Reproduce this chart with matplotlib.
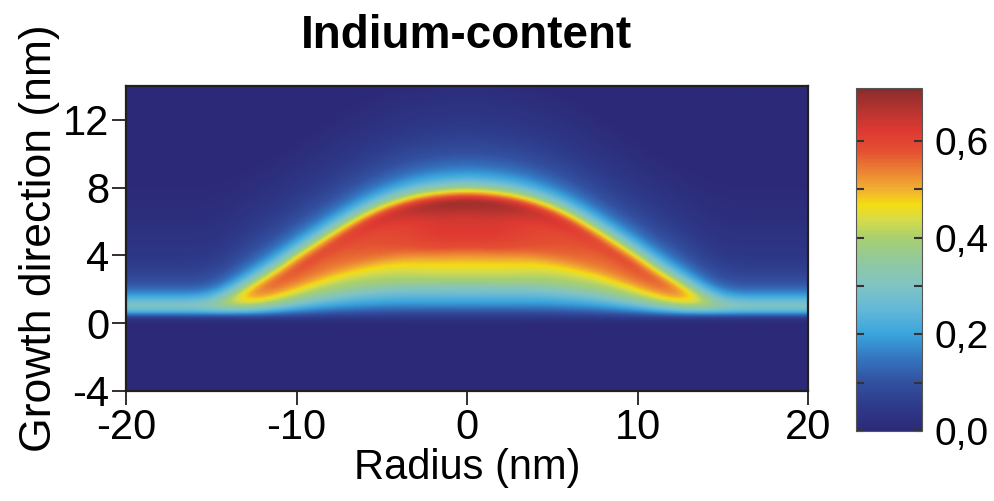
import matplotlib
matplotlib.use("Agg")
import matplotlib.pyplot as plt
import numpy as np
from matplotlib.colors import LinearSegmentedColormap
from matplotlib.ticker import FuncFormatter

plt.rcParams['font.family'] = ['Liberation Sans', 'DejaVu Sans']
plt.rcParams['axes.unicode_minus'] = False

# lateral shape of the dot: radius, top of the In-rich layer, its base, peak content
radius_nm = [-20, -16, -15, -14, -13, -12, -11, -10, -9, -8, -7, -6, -5, -4, -3, -2, -1, 0,
             1, 2, 3, 4, 5, 6, 7, 8, 9, 10, 11, 12, 13, 14, 15, 16, 20]
top_nm = [1.0, 1.0, 1.05, 1.3, 1.7, 2.2, 2.8, 3.5, 4.15, 4.8, 5.4, 5.95, 6.4, 6.75, 7.0, 7.15, 7.25, 7.3,
          7.25, 7.15, 7.0, 6.75, 6.4, 5.95, 5.4, 4.8, 4.15, 3.5, 2.8, 2.2, 1.7, 1.3, 1.05, 1.0, 1.0]
base_nm = [0.3, 0.3, 0.3, 0.3, 0.29, 0.28, 0.27, 0.26, 0.25, 0.25, 0.25, 0.25, 0.25, 0.25, 0.25, 0.25, 0.25, 0.25,
           0.25, 0.25, 0.25, 0.25, 0.25, 0.25, 0.25, 0.25, 0.25, 0.26, 0.27, 0.28, 0.29, 0.3, 0.3, 0.3, 0.3]
peak_content = [0.33, 0.33, 0.36, 0.44, 0.54, 0.60, 0.62, 0.63, 0.63, 0.63, 0.64, 0.65, 0.66, 0.67, 0.685, 0.70, 0.705, 0.705,
                0.705, 0.70, 0.685, 0.67, 0.66, 0.65, 0.64, 0.63, 0.63, 0.63, 0.62, 0.60, 0.54, 0.44, 0.36, 0.33, 0.33]

# vertical composition inside the layer (fraction of thickness -> fraction of peak)
layer_frac = [0.0, 0.07, 0.12, 0.2, 0.27, 0.33, 0.45, 0.53, 0.61, 0.72, 0.85, 0.95, 1.0]
layer_rel = [0.04, 0.17, 0.26, 0.36, 0.46, 0.57, 0.66, 0.74, 0.84, 0.88, 0.9, 0.97, 1.0]
# segregation tail above the top surface (nm above top -> fraction of peak)
tail_nm = [0.0, 0.3, 0.6, 0.9, 1.2, 1.6, 2.1, 2.8, 3.8, 5.2, 7.5]
tail_rel = [1.0, 0.8, 0.61, 0.46, 0.35, 0.27, 0.2, 0.14, 0.09, 0.045, 0.0]

# colour scale
cmap_pos = [0.0, 0.05, 0.10, 0.15, 0.20, 0.25, 0.30, 0.35, 0.40, 0.44, 0.47, 0.50, 0.54, 0.58, 0.62, 0.655, 0.71]
cmap_col = ['#2c2a78', '#2e3a8a', '#3350a0', '#3475c0', '#3aa4dc', '#62b8d8', '#80c4c4', '#90c8a0',
            '#a8d070', '#d8dc48', '#f5dc10', '#f0b030', '#ec8034', '#e45032', '#e03a32', '#c03530', '#8a2c2c']
vmax = 0.71
cb_labels = [0.0, 0.2, 0.4, 0.6]
cb_minor = [0.1, 0.3, 0.5]

x = np.linspace(-20, 20, 401)
y = np.linspace(-4, 14, 181)
X, Y = np.meshgrid(x, y)
top = np.interp(X, radius_nm, top_nm)
base = np.interp(X, radius_nm, base_nm)
peak = np.interp(X, radius_nm, peak_content)

s = (Y - base) / (top - base)
inside = np.interp(s, layer_frac, layer_rel)
above = np.interp(Y - top, tail_nm, tail_rel)
below = layer_rel[0] * np.interp(base - Y, [0.0, 0.3], [1.0, 0.0])
rel = np.where(Y > top, above, np.where(Y < base, below, inside))
field = peak * rel

# light smoothing of the composition map
def smooth(a, sigma_px, axis):
    k = np.arange(-3 * sigma_px, 3 * sigma_px + 1)
    k = np.exp(-0.5 * (k / sigma_px) ** 2)
    k /= k.sum()
    pad = len(k) // 2
    padw = [(0, 0), (0, 0)]
    padw[axis] = (pad, pad)
    ap = np.pad(a, padw, mode='edge')
    return np.apply_along_axis(lambda v: np.convolve(v, k, mode='valid'), axis, ap)

field = smooth(smooth(field, 2, 0), 5, 1)

cmap = LinearSegmentedColormap.from_list('indium', list(zip(np.array(cmap_pos) / vmax, cmap_col)))

fig = plt.figure(figsize=(9.94, 5.01), dpi=100)
ax = fig.add_axes([126 / 994, 110 / 501, 682 / 994, 305 / 501])
im = ax.imshow(field, extent=[-20, 20, -4, 14], origin='lower', cmap=cmap, vmin=0, vmax=vmax,
               aspect='auto', interpolation='bilinear')
ax.set_xticks([-20, -10, 0, 10, 20])
ax.set_yticks([-4, 0, 4, 8, 12])
ax.tick_params(direction='out', length=10, width=1.3, labelsize=30, pad=2, color='#231f20')
for sp in ax.spines.values():
    sp.set_linewidth(1.6)
    sp.set_color('#231f20')
ax.set_xlabel('Radius (nm)', fontsize=30, labelpad=0)
ax.set_ylabel('Growth direction (nm)', fontsize=32, labelpad=2)
ax.set_title('Indium-content', fontsize=33, fontweight='bold', pad=27)

cax = fig.add_axes([856 / 994, 70 / 501, 66 / 994, 343 / 501])
cb = fig.colorbar(im, cax=cax)
cb.set_ticks(cb_labels)
cb.ax.yaxis.set_major_formatter(FuncFormatter(lambda v, p: f'{v:.1f}'.replace('.', ',')))
cb.ax.set_yticks(cb_minor, minor=True)
cb.ax.tick_params(which='both', direction='in', left=True, right=True, length=6, width=1.5,
                  color='#333333', labelsize=28, pad=9)
cb.outline.set_linewidth(0.8)
cb.outline.set_edgecolor('#555555')

fig.savefig('out.png', dpi=100)
